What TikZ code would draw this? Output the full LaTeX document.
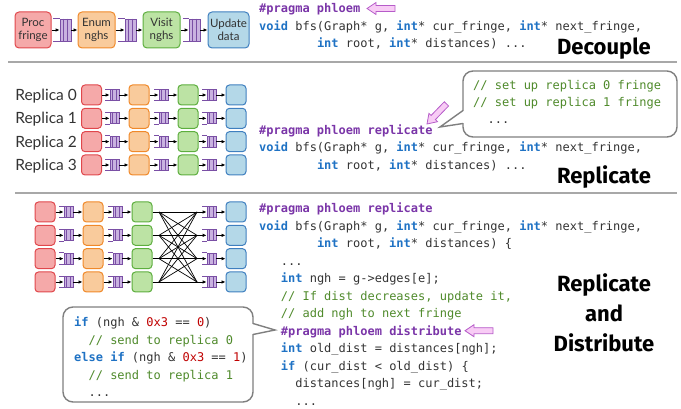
\documentclass[tikz,border=0pt]{standalone}
\usepackage{fontspec}
\setmainfont{Lato}
\setmonofont{DejaVu Sans Mono}
\newfontfamily\ttlfont{Fira Sans}
\usetikzlibrary{arrows.meta,calc}
\definecolor{redF}{HTML}{F5A9A9}\definecolor{redL}{HTML}{E0474C}
\definecolor{orgF}{HTML}{F9CB9C}\definecolor{orgL}{HTML}{F0892A}
\definecolor{grnF}{HTML}{BCE3A4}\definecolor{grnL}{HTML}{5DAE3E}
\definecolor{bluF}{HTML}{B4D8E8}\definecolor{bluL}{HTML}{3F7FBF}
\definecolor{qF}{HTML}{C9B2E0}\definecolor{qL}{HTML}{7A4FA5}
\definecolor{pkF}{HTML}{F8CCF5}\definecolor{pkL}{HTML}{B65CC9}
\definecolor{kwC}{HTML}{1F72C4}\definecolor{prC}{HTML}{7A35A8}
\definecolor{cmC}{HTML}{4F8A2B}\definecolor{nmC}{HTML}{C00000}
\definecolor{txC}{HTML}{333333}\definecolor{sepC}{HTML}{A8A8A8}
\definecolor{coC}{HTML}{7F7F7F}
\newcommand\kw[1]{\textcolor{kwC}{\bfseries #1}}
\newcommand\prg[1]{\textcolor{prC}{\bfseries #1}}
\newcommand\cmt[1]{\textcolor{cmC}{#1}}
\newcommand\nmb[1]{\textcolor{nmC}{#1}}
\newcommand\mkq[5]{%
  \node[#4] (#1) at (#2,#3) {};
  \draw[qline] (#1.north west) -- ++(-#5,0) (#1.south west) -- ++(-#5,0)
    ($(#1.north west)!.333!(#1.north east)$) -- ($(#1.south west)!.333!(#1.south east)$)
    ($(#1.north west)!.667!(#1.north east)$) -- ($(#1.south west)!.667!(#1.south east)$);
}
\newcommand\pinkarrow[3]{\draw[pa, shift={(#1,#2)}, rotate=#3] (0,0) -- (9,-6) -- (9,-3) -- (28,-3) -- (28,3) -- (9,3) -- (9,6) -- cycle;}
\begin{document}
\begin{tikzpicture}[x=1pt,y=-1pt,
  box1/.style={rounded corners=4pt, line width=1pt, inner sep=0, align=center, minimum height=36pt,
     font=\fontsize{11.5}{13.5}\selectfont, text=txC},
  sbox/.style={rounded corners=3.5pt, line width=1pt, inner sep=0, minimum width=20pt, minimum height=20pt},
  rbx/.style={fill=redF, draw=redL}, obx/.style={fill=orgF, draw=orgL},
  gbx/.style={fill=grnF, draw=grnL}, bbx/.style={fill=bluF, draw=bluL},
  qS/.style={fill=qF, draw=qL, line width=0.8pt, inner sep=0, minimum width=9pt, minimum height=11pt},
  qBig/.style={fill=qF, draw=qL, line width=0.8pt, inner sep=0, minimum width=11pt, minimum height=22pt},
  qline/.style={draw=qL, line width=0.8pt},
  arr/.style={-{Latex[length=4pt,width=3.6pt]}, line width=0.8pt, black},
  ln/.style={line width=0.7pt, black},
  lbl/.style={anchor=base east, inner sep=0, font=\fontsize{15.5}{18}\selectfont, text=txC},
  code/.style={anchor=base west, inner sep=0, font=\ttfamily\fontsize{12}{14}\selectfont, text=txC},
  ttl/.style={anchor=base, inner sep=0, font=\ttlfont\fontsize{22}{28}\selectfont\bfseries, text=black},
  sep/.style={draw=sepC, line width=1.5pt},
  cbox/.style={draw=coC, line width=1.4pt, fill=white, rounded corners=10pt, inner sep=0},
  cline/.style={draw=coC, line width=1.4pt, line join=miter},
  pa/.style={fill=pkF, draw=pkL, line width=0.8pt, line join=miter}]
\useasboundingbox (0,0) rectangle (681,409);

% ---------- Section 1: Decouple ----------
\node[box1, rbx, minimum width=36pt] (p1) at (33,30) {Proc\\fringe};
\node[box1, obx, minimum width=37pt] (p2) at (96.5,30) {Enum\\nghs};
\node[box1, gbx, minimum width=37pt] (p3) at (161.5,30) {Visit\\nghs};
\node[box1, bbx, minimum width=41pt] (p4) at (228.5,30) {Update\\data};
\mkq{q1}{65.5}{30}{qBig}{7}
\mkq{q2}{130.5}{30}{qBig}{7}
\mkq{q3}{194.5}{30}{qBig}{6}
\draw[arr] (p1.east) -- (q1.west);
\draw[arr] (q1.east) -- (p2.west);
\draw[arr] (p2.east) -- (q2.west);
\draw[arr] (q2.east) -- (p3.west);
\draw[arr] (p3.east) -- (q3.west);
\draw[arr] (q3.east) -- (p4.west);

\node[code] (c1a) at (259,13) {\prg{\#pragma phloem}};
\node[code] (c1b) at (259,30.5) {\kw{void} bfs(Graph* g, \kw{int}* cur\_fringe, \kw{int}* next\_fringe,};
\node[code] (c1c) at (316.8,48) {\kw{int} root, \kw{int}* distances) ...};
\pinkarrow{367}{8.5}{0}
\node[ttl] (t1) at (604,55) {Decouple};

\draw[sep] (8,62) -- (677,62);

% ---------- Section 2: Replicate ----------
\foreach \r in {0,1,2,3}{
  \pgfmathsetmacro\yy{95+23.33*\r}
  \node[lbl] (rl\r) at (77,{\yy+5.5}) {Replica \r};
  \node[sbox,rbx] (ra\r) at (91.5,\yy) {};
  \node[sbox,obx] (rb\r) at (139,\yy) {};
  \node[sbox,gbx] (rc\r) at (188,\yy) {};
  \node[sbox,bbx] (rd\r) at (236,\yy) {};
  \mkq{rqa\r}{114.5}{\yy}{qS}{5}
  \mkq{rqb\r}{163.5}{\yy}{qS}{5}
  \mkq{rqc\r}{211.5}{\yy}{qS}{5}
  \draw[arr] (ra\r.east) -- (rqa\r.west);
  \draw[arr] (rqa\r.east) -- (rb\r.west);
  \draw[arr] (rb\r.east) -- (rqb\r.west);
  \draw[arr] (rqb\r.east) -- (rc\r.west);
  \draw[arr] (rc\r.east) -- (rqc\r.west);
  \draw[arr] (rqc\r.east) -- (rd\r.west);
}

\node[cbox, minimum width=214pt, minimum height=66pt] (co2) at (570,104) {};
\coordinate (co2tip) at (440,127);
\fill[white] (461,111) rectangle (465.5,123);
\draw[cline] (463,110.5) -- (co2tip) -- (463,123.5);
\node[code] (k2a) at (473,89.3) {\cmt{// set up replica 0 fringe}};
\node[code] (k2b) at (473,106.7) {\cmt{// set up replica 1 fringe}};
\node[code] (k2c) at (487.4,124) {...};

\node[code] (c2a) at (259,134.5) {\prg{\#pragma phloem replicate}};
\node[code] (c2b) at (259,152) {\kw{void} bfs(Graph* g, \kw{int}* cur\_fringe, \kw{int}* next\_fringe,};
\node[code] (c2c) at (316.8,169.5) {\kw{int} root, \kw{int}* distances) ...};
\pinkarrow{427}{124}{46}
\node[ttl] (t2) at (604,184) {Replicate};

\draw[sep] (15,193) -- (677,193);

% ---------- Section 3: Replicate and Distribute ----------
\foreach \r in {0,1,2,3}{
  \pgfmathsetmacro\yy{212+23.33*\r}
  \node[sbox,rbx] (da\r) at (45,\yy) {};
  \node[sbox,obx] (db\r) at (93,\yy) {};
  \node[sbox,gbx] (dc\r) at (142,\yy) {};
  \node[sbox,bbx] (dd\r) at (236,\yy) {};
  \mkq{dqa\r}{68.5}{\yy}{qS}{5}
  \mkq{dqb\r}{117.5}{\yy}{qS}{5}
  \mkq{dqc\r}{211.5}{\yy}{qS}{5}
  \coordinate (xl\r) at (159,\yy);
  \coordinate (xr\r) at (197,\yy);
  \draw[arr] (da\r.east) -- (dqa\r.west);
  \draw[arr] (dqa\r.east) -- (db\r.west);
  \draw[arr] (db\r.east) -- (dqb\r.west);
  \draw[arr] (dqb\r.east) -- (dc\r.west);
  \draw[ln] (dc\r.east) -- (xl\r);
  \draw[arr] (xr\r) -- (dqc\r.west);
  \draw[arr] (dqc\r.east) -- (dd\r.west);
}
\foreach \i in {0,1,2,3}{\foreach \j in {0,1,2,3}{\draw[ln] (xl\i) -- (xr\j);}}

\node[code] (c3a) at (259,212.7) {\prg{\#pragma phloem replicate}};
\node[code] (c3b) at (259,230.2) {\kw{void} bfs(Graph* g, \kw{int}* cur\_fringe, \kw{int}* next\_fringe,};
\node[code] (c3c) at (316.8,247.7) {\kw{int} root, \kw{int}* distances) \{};
\node[code] (c3d) at (280.7,265.2) {...};
\node[code] (c3e) at (280.7,282.7) {\kw{int} ngh = g->edges[e];};
\node[code] (c3f) at (280.7,300.2) {\cmt{// If dist decreases, update it,}};
\node[code] (c3g) at (280.7,317.7) {\cmt{// add ngh to next fringe}};
\node[code] (c3h) at (280.7,335.2) {\prg{\#pragma phloem distribute}};
\node[code] (c3i) at (280.7,352.7) {\kw{int} old\_dist = distances[ngh];};
\node[code] (c3j) at (280.7,370.2) {\kw{if} (cur\_dist < old\_dist) \{};
\node[code] (c3k) at (295.1,387.7) {distances[ngh] = cur\_dist;};
\node[code] (c3l) at (295.1,405.2) {...};
\pinkarrow{465}{330.7}{0}

\node[cbox, minimum width=190pt, minimum height=95pt] (co3) at (158,354.5) {};
\coordinate (co3tip) at (275,330);
\fill[white] (250.5,324) rectangle (255,334);
\draw[cline] (253,323.5) -- (co3tip) -- (253,334.5);
\node[code] (k3a) at (74,326.7) {\kw{if} (ngh \& \nmb{0x3} == \nmb{0})};
\node[code] (k3b) at (88.4,344.2) {\cmt{// send to replica 0}};
\node[code] (k3c) at (74,361.7) {\kw{else if} (ngh \& \nmb{0x3} == \nmb{1})};
\node[code] (k3d) at (88.4,379.2) {\cmt{// send to replica 1}};
\node[code] (k3e) at (88.4,396.7) {...};

\node[ttl] (t3a) at (604,291.7) {Replicate};
\node[ttl] (t3b) at (604,321.7) {and};
\node[ttl] (t3c) at (604,351.7) {Distribute};
\end{tikzpicture}
\end{document}
